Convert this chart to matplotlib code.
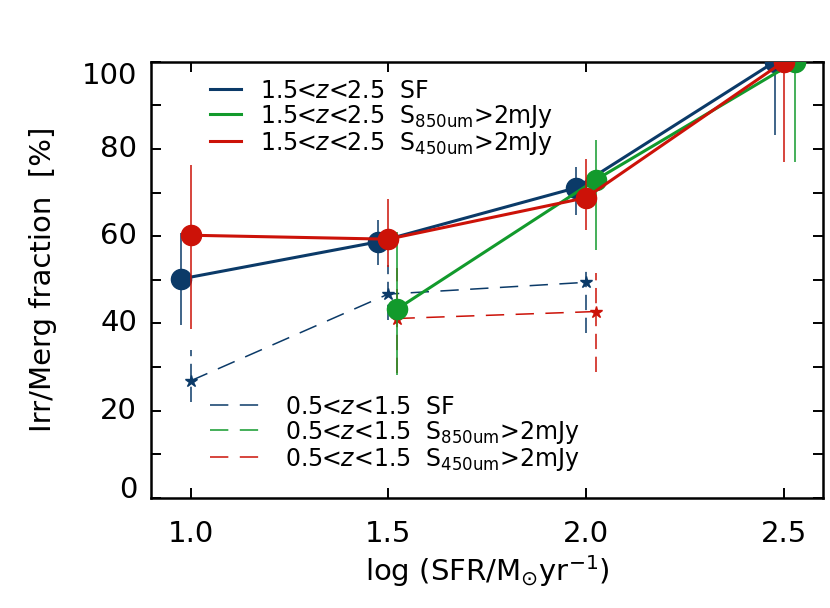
import matplotlib
matplotlib.use("Agg")
import matplotlib.pyplot as plt
from matplotlib.lines import Line2D
from matplotlib.ticker import MultipleLocator

plt.rcParams['font.family'] = ['DejaVu Sans']
plt.rcParams['mathtext.fontset'] = 'dejavusans'

# ---- data: 1.5<z<2.5 (solid) ----
sf_hi_x = [0.977, 1.475, 1.976, 2.478]
sf_hi_y = [50.2, 58.7, 71.1, 100.0]
sf_hi_lo = [10.6, 5.3, 6.3, 16.8]
sf_hi_up = [10.4, 5.0, 4.8, 0.0]

s850_hi_x = [1.521, 2.025, 2.529]
s850_hi_y = [43.2, 72.9, 100.0]
s850_hi_lo = [15.1, 16.1, 22.9]
s850_hi_up = [17.8, 9.1, 0.0]

s450_hi_x = [1.0, 1.5, 2.0, 2.5]
s450_hi_y = [60.2, 59.3, 68.8, 100.0]
s450_hi_lo = [21.5, 6.3, 7.3, 22.9]
s450_hi_up = [16.1, 9.1, 9.0, 0.0]

# ---- data: 0.5<z<1.5 (dashed) ----
sf_lo_x = [1.0, 1.5, 2.0]
sf_lo_y = [26.8, 46.7, 49.4]
sf_lo_lo = [4.9, 5.9, 11.6]
sf_lo_up = [7.1, 6.7, 3.2]

s450_lo_x = [1.521, 2.025]
s450_lo_y = [41.1, 42.7]
s450_lo_lo = [12.6, 13.8]
s450_lo_up = [11.6, 8.8]

xticks = [1.0, 1.5, 2.0, 2.5]
xticklabels = ["1.0", "1.5", "2.0", "2.5"]
yticks = [0, 20, 40, 60, 80, 100]

BLUE = "#0b3a68"
GREEN = "#129a2c"
RED = "#cc1208"

DASH = (0, (12, 7.5))

fig = plt.figure(figsize=(8.30, 6.08), dpi=100)
ax = fig.add_axes([0.182, 0.1814, 0.8096, 0.7171])

def solid(x, y, lo, up, c, z):
    ax.errorbar(x, y, yerr=[lo, up], color=c, lw=2.2, elinewidth=1.1,
                capsize=0, marker='o', ms=14.5, mec=c, mfc=c, zorder=z)

def dashed(x, y, lo, up, c, z):
    res = ax.errorbar(x, y, yerr=[lo, up], color=c, lw=1.1, elinewidth=1.1,
                      capsize=0, marker='*', ms=9, mec=c, mfc=c, zorder=z,
                      linestyle=DASH)
    for lc in res[2]:
        lc.set_linestyle((0, (10, 5)))

dashed(sf_lo_x, sf_lo_y, sf_lo_lo, sf_lo_up, BLUE, 2)
dashed(s450_lo_x, s450_lo_y, s450_lo_lo, s450_lo_up, RED, 2.1)
solid(sf_hi_x, sf_hi_y, sf_hi_lo, sf_hi_up, BLUE, 3)
solid(s850_hi_x, s850_hi_y, s850_hi_lo, s850_hi_up, GREEN, 3.1)
solid(s450_hi_x, s450_hi_y, s450_hi_lo, s450_hi_up, RED, 3.2)

ax.set_xlim(0.9, 2.6)
ax.set_ylim(0, 100)
ax.set_xticks(xticks)
ax.set_xticklabels(xticklabels)
ax.set_yticks(yticks)
ax.set_yticklabels([str(v) for v in yticks])
ax.yaxis.set_minor_locator(MultipleLocator(10))
ax.tick_params(which='both', direction='in', top=True, right=True,
               length=7, width=1.4, labelsize=21)
ax.tick_params(axis='x', pad=16)
ax.tick_params(axis='y', pad=10)
ylabs = ax.get_yticklabels()
for lab in ylabs:
    lab.set_va('center')
ylabs[0].set_va('baseline')
ylabs[-1].set_va('top')
for s in ax.spines.values():
    s.set_linewidth(1.8)

ax.set_xlabel(r"log (SFR/M$_{\odot}$yr$^{-1}$)", fontsize=21, labelpad=4)
ax.set_ylabel("Irr/Merg fraction  [%]", fontsize=21, labelpad=18)

h1 = [Line2D([], [], color=BLUE, lw=2.2),
      Line2D([], [], color=GREEN, lw=2.2),
      Line2D([], [], color=RED, lw=2.2)]
l1 = [r"1.5<$z$<2.5  SF",
      r"1.5<$z$<2.5  S$_{\rm 850um}$>2mJy",
      r"1.5<$z$<2.5  S$_{\rm 450um}$>2mJy"]
leg1 = ax.legend(h1, l1, loc='upper left', bbox_to_anchor=(0.074, 0.983),
                 frameon=False, fontsize=17, handlelength=1.3,
                 handletextpad=0.8, labelspacing=0.0, borderaxespad=0)
ax.add_artist(leg1)

h2 = [Line2D([], [], color=BLUE, lw=1.1, linestyle=DASH),
      Line2D([], [], color=GREEN, lw=1.1, linestyle=DASH),
      Line2D([], [], color=RED, lw=1.1, linestyle=DASH)]
l2 = [r"0.5<$z$<1.5  SF",
      r"0.5<$z$<1.5  S$_{\rm 850um}$>2mJy",
      r"0.5<$z$<1.5  S$_{\rm 450um}$>2mJy"]
ax.legend(h2, l2, loc='upper left', bbox_to_anchor=(0.074, 0.258),
          frameon=False, fontsize=17, handlelength=2.3,
          handletextpad=0.85, labelspacing=0.0, borderaxespad=0)

fig.savefig("out.png", dpi=100)
